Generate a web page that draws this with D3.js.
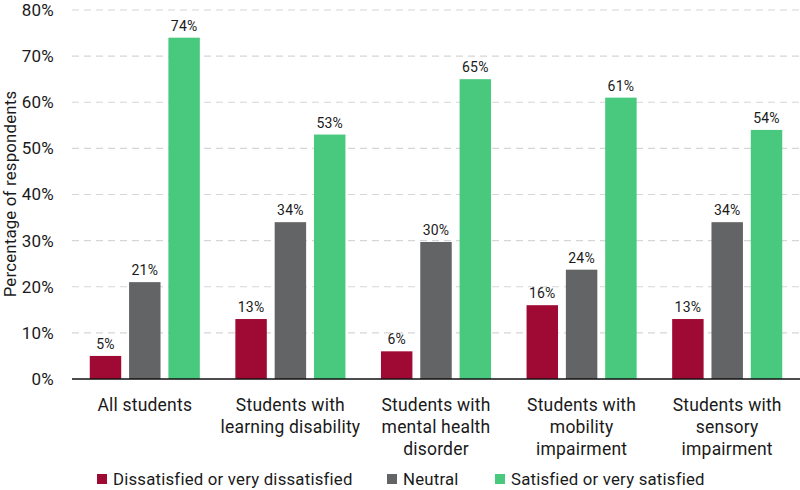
<!DOCTYPE html>
<html>
<head>
<meta charset="utf-8">
<script src="https://cdnjs.cloudflare.com/ajax/libs/d3/7.8.5/d3.min.js"></script>
<style>
  body { margin: 0; background: #fff; }
  svg text { font-family: Roboto, "Noto Sans", sans-serif; fill: #1a1a1a; letter-spacing: 0.2px; }
</style>
</head>
<body>
<div id="chart"></div>
<script>
var categories = [
    ["All students"],
    ["Students with", "learning disability"],
    ["Students with", "mental health", "disorder"],
    ["Students with", "mobility", "impairment"],
    ["Students with", "sensory", "impairment"]
];
var seriesNames = ["Dissatisfied or very dissatisfied", "Neutral", "Satisfied or very satisfied"];
var dissatisfied = [5, 13, 6, 16, 13];
var neutral = [21, 34, 29.7, 23.7, 34];
var satisfied = [74, 53, 65, 61, 54];
var yTicks = [0, 10, 20, 30, 40, 50, 60, 70, 80];
var colors = ["#9e0a34", "#636466", "#48c97e"];

var width = 800, height = 490;
var margin = { top: 10, right: 0, bottom: 111, left: 72 };

var svg = d3.select("#chart").append("svg")
    .attr("width", width)
    .attr("height", height);

var g = svg.append("g")
    .attr("transform", "translate(" + margin.left + "," + margin.top + ")");

var innerW = width - margin.left - margin.right;
var innerH = height - margin.top - margin.bottom;

var series = [dissatisfied, neutral, satisfied];

var x0 = d3.scaleBand()
    .domain(d3.range(categories.length))
    .range([0, innerW]);

var x1 = d3.scaleBand()
    .domain(d3.range(series.length))
    .range([x0.bandwidth() * 0.122, x0.bandwidth() * 0.878])
    .paddingInner(0.2);

var y = d3.scaleLinear()
    .domain([0, 80])
    .range([innerH, 0]);

// gridlines
g.append("g")
    .selectAll("line")
    .data(yTicks.filter(function(d) { return d > 0; }))
    .enter().append("line")
    .attr("x1", 0)
    .attr("x2", innerW)
    .attr("y1", function(d) { return y(d); })
    .attr("y2", function(d) { return y(d); })
    .attr("stroke", "#d6d6d6")
    .attr("stroke-width", 1.2)
    .attr("stroke-dasharray", "7,5");

// y axis labels
var yAxis = d3.axisLeft(y)
    .tickValues(yTicks)
    .tickFormat(function(d) { return d + "%"; })
    .tickSize(0)
    .tickPadding(18);

var yg = g.append("g").call(yAxis);
yg.select(".domain").remove();
yg.selectAll("text")
    .style("font-size", "17px")
    .style("font-family", null)
    .attr("fill", "#1a1a1a");

// bars
var groups = g.selectAll(".group")
    .data(categories)
    .enter().append("g")
    .attr("class", "group")
    .attr("transform", function(d, i) { return "translate(" + x0(i) + ",0)"; });

groups.each(function(cat, ci) {
    var grp = d3.select(this);
    series.forEach(function(s, si) {
        var v = s[ci];
        grp.append("rect")
            .attr("x", x1(si))
            .attr("y", y(v))
            .attr("width", x1.bandwidth())
            .attr("height", innerH - y(v))
            .attr("fill", colors[si]);
        grp.append("text")
            .attr("x", x1(si) + x1.bandwidth() / 2)
            .attr("y", y(v) - 7)
            .attr("text-anchor", "middle")
            .style("font-size", "14px")
            .text(Math.round(v) + "%");
    });

    var label = grp.append("text")
        .attr("text-anchor", "middle")
        .attr("x", x0.bandwidth() / 2)
        .attr("y", innerH + 32)
        .style("font-size", "17.5px");
    cat.forEach(function(line, li) {
        label.append("tspan")
            .attr("x", x0.bandwidth() / 2)
            .attr("dy", li === 0 ? 0 : 22)
            .text(line);
    });
});

// x axis baseline
g.append("line")
    .attr("x1", 0)
    .attr("x2", innerW)
    .attr("y1", innerH)
    .attr("y2", innerH)
    .attr("stroke", "#111")
    .attr("stroke-width", 1.5);

// y axis title
svg.append("text")
    .attr("transform", "translate(16,194) rotate(-90)")
    .attr("text-anchor", "middle")
    .style("font-size", "16.8px")
    .text("Percentage of respondents");

// legend
var legendX = [97, 387, 495];
var legend = svg.append("g")
    .selectAll("g")
    .data(seriesNames)
    .enter().append("g")
    .attr("transform", function(d, i) { return "translate(" + legendX[i] + ",474)"; });

legend.append("rect")
    .attr("width", 10)
    .attr("height", 10)
    .attr("fill", function(d, i) { return colors[i]; });

legend.append("text")
    .attr("x", 16)
    .attr("y", 5)
    .attr("dy", "0.35em")
    .style("font-size", "16.8px")
    .text(function(d) { return d; });
</script>
</body>
</html>
